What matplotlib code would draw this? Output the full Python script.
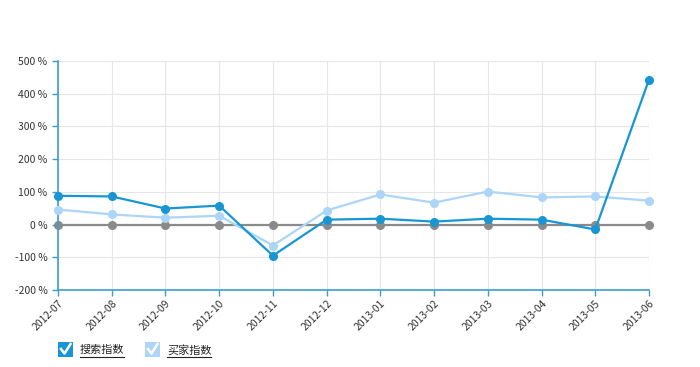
import matplotlib
matplotlib.use("Agg")
import matplotlib.pyplot as plt
from matplotlib.patches import Rectangle
from matplotlib.lines import Line2D

plt.rcParams['font.family'] = ['Noto Sans CJK SC', 'DejaVu Sans']

months = ["2012-07", "2012-08", "2012-09", "2012-10", "2012-11", "2012-12",
          "2013-01", "2013-02", "2013-03", "2013-04", "2013-05", "2013-06"]
search_idx = [88, 86, 49, 58, -95, 15, 18, 9, 18, 15, -15, 443]
buyer_idx = [46, 31, 21, 27, -64, 43, 92, 67, 101, 83, 86, 73]
baseline = [0] * len(months)
y_ticks = [-200, -100, 0, 100, 200, 300, 400, 500]
legend_names = ["搜索指数", "买家指数"]

dark = "#1896d3"
light = "#acd5f7"
grey = "#8a8a8a"
axis_col = "#3d9dcf"

fig = plt.figure(figsize=(7, 3.67), dpi=100)
ax = fig.add_axes([58 / 700, 1 - 290 / 367, (649 - 58) / 700, (290 - 61) / 367])

x = list(range(len(months)))
ax.plot(x, baseline, color=grey, lw=1.6, marker="o", ms=5.5, zorder=2, clip_on=False)
ax.plot(x, buyer_idx, color=light, lw=1.6, marker="o", ms=5.5, zorder=3, clip_on=False)
ax.plot(x, search_idx, color=dark, lw=1.6, marker="o", ms=5.5, zorder=4, clip_on=False)

ax.set_xlim(0, len(months) - 1)
ax.set_ylim(-200, 500)
ax.set_yticks(y_ticks)
ax.set_yticklabels([f"{v} %" for v in y_ticks])
ax.set_xticks(x)
ax.set_xticklabels(months, rotation=45, ha="right", rotation_mode="anchor")
ax.grid(True, color="#e6e6e6", lw=0.8)
ax.set_axisbelow(True)

for s in ["top", "right"]:
    ax.spines[s].set_visible(False)
for s in ["left", "bottom"]:
    ax.spines[s].set_color(axis_col)
    ax.spines[s].set_linewidth(1.2)
ax.tick_params(axis="both", colors=axis_col, labelcolor="#333333", labelsize=7.5,
               length=4, width=1)
ax.tick_params(axis="x", pad=2)

# legend checkboxes
box_x = [58, 145]
box_cols = [dark, light]
for bx, col, name in zip(box_x, box_cols, legend_names):
    fig.patches.append(Rectangle((bx / 700, 1 - 357 / 367), 15 / 700, 15 / 367,
                                 transform=fig.transFigure, facecolor=col,
                                 edgecolor="none"))
    cx = [bx + 3, bx + 6.5, bx + 12.5]
    cy = [349, 353.5, 344]
    fig.lines.append(Line2D([v / 700 for v in cx], [1 - v / 367 for v in cy],
                            transform=fig.transFigure, color="white", lw=1.8))
    tx = bx + 22
    fig.text(tx / 700, 1 - 350 / 367, name, fontsize=8, color="#222222",
             va="center", ha="left")
    fig.lines.append(Line2D([tx / 700, (tx + 44) / 700],
                            [1 - 357 / 367, 1 - 357 / 367],
                            transform=fig.transFigure, color="#222222", lw=0.8))

fig.savefig("out.png", dpi=100)
